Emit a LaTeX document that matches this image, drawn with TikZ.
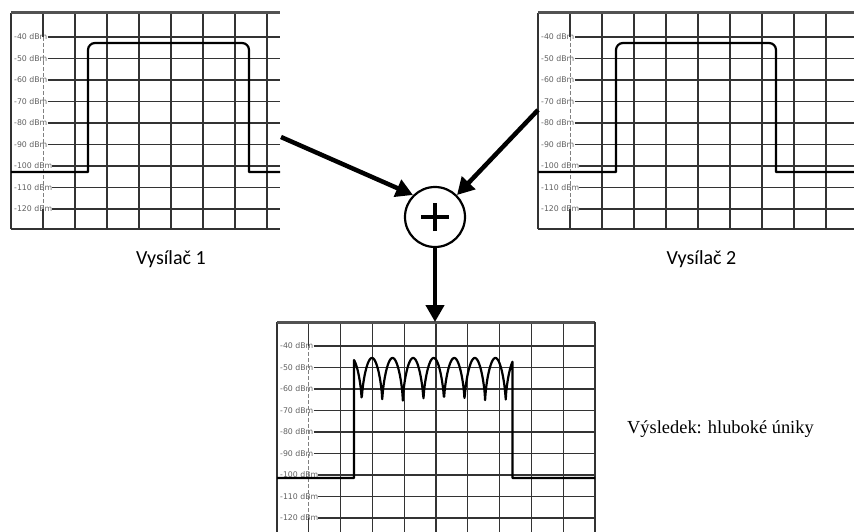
\documentclass[tikz,border=0pt]{standalone}
\usepackage{fontspec}
\setmainfont{Liberation Serif}
\newfontfamily\calibri{Carlito}
\newfontfamily\dejavu{DejaVu Sans}
\usetikzlibrary{arrows.meta}

\definecolor{mrizgray}{gray}{0.2}
\definecolor{popisgray}{gray}{0.38}

% mrizka spektralniho analyzatoru: sirka, pocet svislych car, rozestup
\newcommand{\mrizka}[3]{%
  \foreach \k in {2,...,#2} \draw[mriz] ({#3*\k},0) -- ({#3*\k},216);
  \foreach \db [count=\i from 0] in {40,50,...,120}
    \node[dbm] (h\i) at (3,{24+21.5*\i}) {-\db\ dBm};
  \foreach \i in {0,...,8} \draw[mriz] (h\i.east) -- (#1,{24+21.5*\i});
  \draw[mriz] (#3,0) -- (#3,24) (#3,196) -- (#3,216);
  \draw[osa] (#3,24) -- (#3,196);
  \draw[mriz] (0,216) -- (#1,216);
  \draw[ramec] (0,216) -- (0,0);
  \draw[horni] (0,0) -- (#1,0);
}

\begin{document}
\begin{tikzpicture}[x=1pt,y=-1pt,
  mriz/.style={draw=mrizgray, line width=1.2pt},
  ramec/.style={draw=mrizgray, line width=1.7pt},
  horni/.style={draw=mrizgray!85, line width=3pt},
  osa/.style={draw=gray, line width=0.9pt, dash pattern=on 4pt off 2pt},
  dbm/.style={anchor=west, inner sep=0pt, text=popisgray, font=\dejavu\fontsize{7.8}{9}\selectfont},
  signal/.style={draw=black, line width=2.2pt, line join=round},
  sipka/.style={line width=4.5pt, -{Triangle[length=17pt,width=18pt]}},
  popis/.style={font=\calibri\fontsize{20}{24}\selectfont, anchor=base}]

\useasboundingbox (0,0) rectangle (854,532);

% Vysilac 1
\begin{scope}[shift={(11,13)}]
  \mrizka{269}{8}{32}
  \draw[signal] (0,159) -- (77,159) -- (77,37) arc[start angle=180,end angle=270,radius=7]
    -- (231,30) arc[start angle=270,end angle=360,radius=7] -- (238,159) -- (269,159);
\end{scope}

% Vysilac 2
\begin{scope}[shift={(538,13)}]
  \mrizka{316}{9}{32}
  \draw[signal] (0,159) -- (78,159) -- (78,37) arc[start angle=180,end angle=270,radius=7]
    -- (231,30) arc[start angle=270,end angle=360,radius=7] -- (238,159) -- (316,159);
\end{scope}

% vysledek
\begin{scope}[shift={(277,322)}]
  \mrizka{318}{9}{31.8}
  \draw[ramec] (318,0) -- (318,216);
  \draw[signal] (0,156) -- (77,156)
    -- plot[domain=77:235.5, samples=400] (\x,{80-44*(abs(sin(8.7506*(\x-84.7)))+0.0001)^0.6})
    -- (235.5,156) -- (318,156);
\end{scope}

\node[popis] (tx1) at (171,264) {Vysílač 1};
\node[popis] (tx2) at (701.5,264) {Vysílač 2};
\node[anchor=base west, inner sep=0pt, font=\fontsize{18.4}{22}\selectfont] (vys) at (627,433) {Výsledek: hluboké úniky};

\node[circle, draw, line width=2.2pt, minimum size=60pt, inner sep=0pt] (soucet) at (435,217) {};
\draw[line width=3.4pt] ([xshift=-14pt]soucet.center) -- ([xshift=14pt]soucet.center)
  ([yshift=-14pt]soucet.center) -- ([yshift=14pt]soucet.center);

\coordinate (z1) at (281,137);
\coordinate (z2) at (538,110);
\coordinate (vstup) at (435,322);

\draw[sipka] (z1) -- (soucet.135);
\draw[sipka] (z2) -- (soucet.45);
\draw[sipka] (soucet.south) -- (vstup);
\end{tikzpicture}
\end{document}
